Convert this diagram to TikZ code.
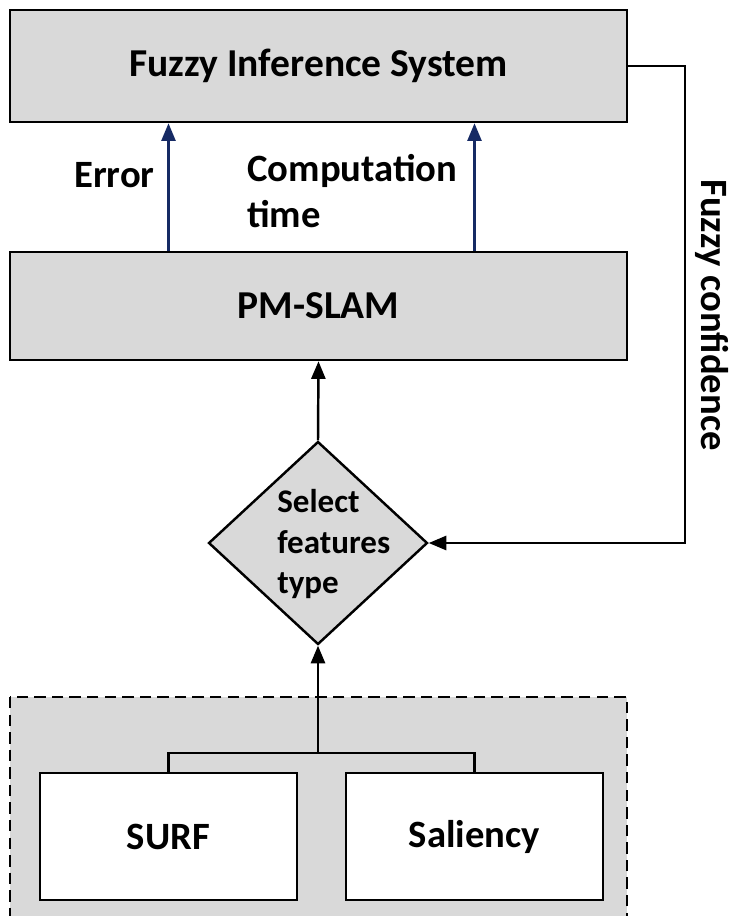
\documentclass[tikz,border=0pt]{standalone}
\usepackage{fontspec}
\setmainfont{Carlito}
\usetikzlibrary{shapes.geometric,arrows.meta}
\definecolor{fisgray}{RGB}{217,217,217}
\definecolor{fisnavy}{RGB}{22,42,100}
\tikzset{
  sysbox/.style={draw, line width=1.5pt, fill=fisgray, font=\bfseries\fontsize{22.5}{26}\selectfont},
  srcbox/.style={draw, line width=1.5pt, fill=white, font=\bfseries\fontsize{22}{26}\selectfont},
  seldiam/.style={diamond, draw, line width=1.4pt, fill=fisgray, inner sep=0pt},
  seltxt/.style={align=left, inner sep=0pt, font=\bfseries\fontsize{18.8}{23}\selectfont},
  lbl/.style={font=\bfseries\fontsize{22}{26}\selectfont, inner sep=0pt},
  navyarr/.style={draw=fisnavy, line width=1.3pt, -{Triangle[width=8pt,length=10pt]}},
  blkarr/.style={line width=1.4pt, -{Triangle[width=8pt,length=10pt]}}
}
\begin{document}
\begin{tikzpicture}[x=0.02cm, y=-0.02cm]
    \clip (0,0) rectangle (733,916);
    % candidate features
    \draw[fill=fisgray, line width=1.5pt, dash pattern=on 6.5pt off 3.5pt] (10,697) rectangle (627,950);
    \node[srcbox, minimum width=5.14cm, minimum height=2.54cm] (surf) at (168.5,836.5) {SURF};
    \node[srcbox, minimum width=5.14cm, minimum height=2.54cm] (sal) at (474.5,836.5) {Saliency};
    \coordinate (bus) at (318,753);
    \draw[line width=1.4pt] (surf.north) |- (bus) -| (sal.north);
    % selection and slam
    \node[seldiam, minimum width=4.38cm, minimum height=4.06cm] (sel) at (318,543) {};
    \node[seltxt, anchor=west] (seltext) at (277,544) {Select\\features\\type};
    \node[sysbox, minimum width=12.34cm, minimum height=2.16cm] (pm) at (318.5,306) {PM-SLAM};
    \node[sysbox, minimum width=12.34cm, minimum height=2.24cm] (fis) at (318.5,66) {Fuzzy Inference System};
    \draw[blkarr] (bus) -- (sel.south);
    \draw[blkarr] (sel.north) -- (pm.south);
    % outputs of the slam
    \draw[navyarr] (pm.north -| surf.north) -- (fis.south -| surf.north);
    \draw[navyarr] (pm.north -| sal.north) -- (fis.south -| sal.north);
    \node[lbl, anchor=east] (err) at (155,175) {Error};
    \node[lbl, anchor=west, align=left] (ctime) at (247,191) {Computation\\time};
    % feedback
    \draw[blkarr] (fis.east) -- ++(57,0) |- (sel.east);
    \node[lbl, rotate=-90] (conf) at (712,315) {Fuzzy confidence};
\end{tikzpicture}
\end{document}
